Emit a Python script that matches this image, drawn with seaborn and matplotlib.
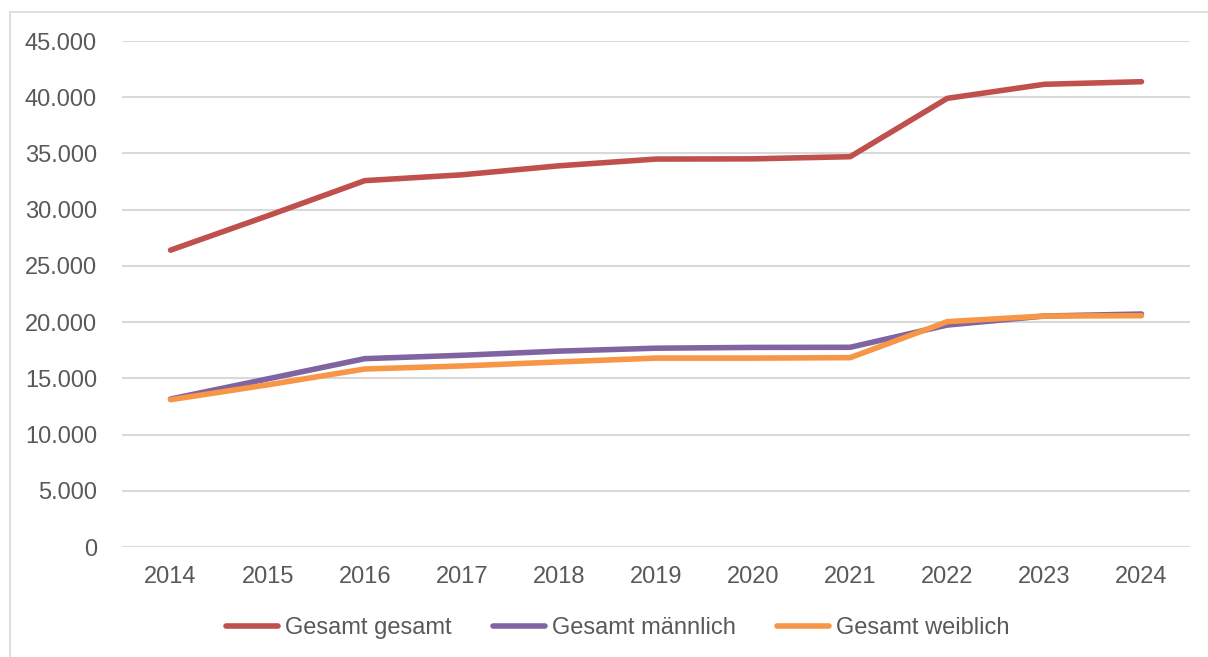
import numpy as np
import matplotlib.pyplot as plt
import seaborn as sns
import pandas as pd
from matplotlib.patches import Rectangle
from matplotlib.ticker import FuncFormatter

# Werte
jahre = ['2014', '2015', '2016', '2017', '2018', '2019', '2020', '2021', '2022', '2023', '2024']
gesamt = [26400, 29450, 32580, 33100, 33900, 34500, 34520, 34710, 39900, 41150, 41380]
maennlich = [13160, 14950, 16750, 17050, 17420, 17680, 17750, 17760, 19740, 20540, 20720]
weiblich = [13100, 14420, 15830, 16100, 16460, 16800, 16800, 16840, 20040, 20540, 20570]
serien = ['Gesamt gesamt', 'Gesamt männlich', 'Gesamt weiblich']
farben = ['#C0504D', '#8064A2', '#F79646']

df = pd.DataFrame({'Jahr': jahre * 3,
                   'Wert': gesamt + maennlich + weiblich,
                   'Serie': [serien[0]] * 11 + [serien[1]] * 11 + [serien[2]] * 11})

sns.set_style('white')
plt.rcParams['font.family'] = ['Liberation Sans', 'DejaVu Sans']

fig = plt.figure(figsize=(12.08, 6.57), dpi=100)
ax = fig.add_axes([122 / 1208, 1 - 547 / 657, (1190 - 122) / 1208, (547 - 41) / 657])

sns.lineplot(data=df, x='Jahr', y='Wert', hue='Serie', palette=farben,
             linewidth=4, ax=ax, sort=False)
for l in ax.lines:
    l.set_solid_capstyle('round')
    l.set_solid_joinstyle('round')

ax.set_xlim(-0.5, 10.5)
ax.set_ylim(0, 45000)
ax.set_yticks(np.arange(0, 45001, 5000))
ax.yaxis.set_major_formatter(FuncFormatter(lambda v, p: f'{int(v):,}'.replace(',', '.')))
ax.grid(axis='y', color='#d9d9d9', linewidth=1.5)
ax.set_axisbelow(True)
for s in ax.spines.values():
    s.set_visible(False)
ax.set_xlabel('')
ax.set_ylabel('')
ax.tick_params(axis='both', length=0, labelsize=17, labelcolor='#595959')
ax.tick_params(axis='y', pad=18)
ax.tick_params(axis='x', pad=14)

leg = ax.legend(loc='center', bbox_to_anchor=(618 / 1208, 1 - 628 / 657),
                bbox_transform=fig.transFigure, ncol=3, frameon=False,
                fontsize=17, handlelength=2.2, handletextpad=0.3, columnspacing=1.75)
for t in leg.get_texts():
    t.set_color('#595959')
for h in leg.get_lines():
    h.set_linewidth(4)

fig.patches.append(Rectangle((10 / 1208, -0.1), 1.2, 1 - 12 / 657 + 0.1,
                             transform=fig.transFigure, fill=False,
                             edgecolor='#d9d9d9', linewidth=1.2))

fig.savefig('out.png', dpi=100)
